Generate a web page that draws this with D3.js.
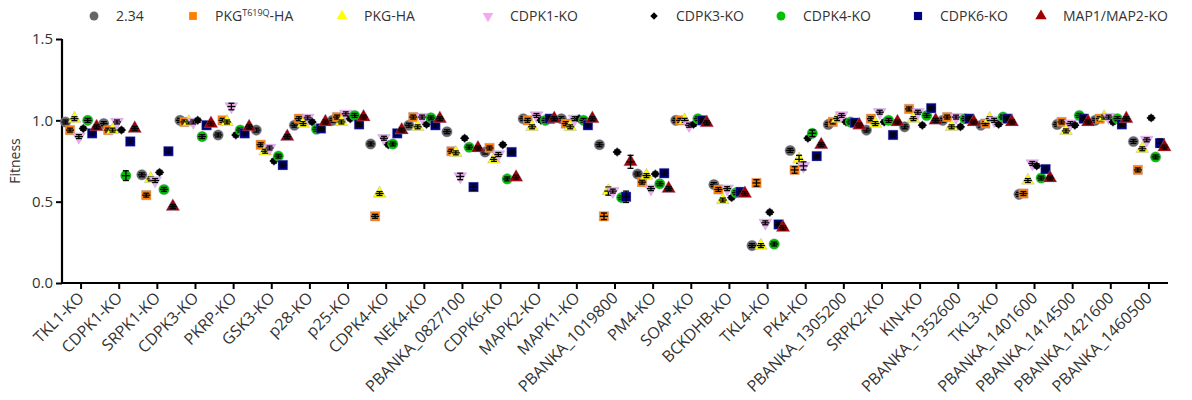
<!DOCTYPE html>
<html>
<head>
<meta charset="utf-8">
<script src="https://cdn.jsdelivr.net/npm/d3@7"></script>
<style>
  body { margin: 0; background: #fff; }
  text { font-family: "Open Sans", "Noto Sans", sans-serif; fill: #333; }
</style>
</head>
<body>
<div id="chart"></div>
<script>
// categories on the x axis
const categories = ["TKL1-KO", "CDPK1-KO", "SRPK1-KO", "CDPK3-KO", "PKRP-KO", "GSK3-KO", "p28-KO", "p25-KO",
  "CDPK4-KO", "NEK4-KO", "PBANKA_0827100", "CDPK6-KO", "MAPK2-KO", "MAPK1-KO", "PBANKA_1019800", "PM4-KO",
  "SOAP-KO", "BCKDHB-KO", "TKL4-KO", "PK4-KO", "PBANKA_1305200", "SRPK2-KO", "KIN-KO", "PBANKA_1352600",
  "TKL3-KO", "PBANKA_1401600", "PBANKA_1414500", "PBANKA_1421600", "PBANKA_1460500"];

// fitness per background line, one value per category
const v234 =    [0.99, 0.98, 0.665, 1.00, 0.91, 0.94, 0.97, 1.00, 0.855, 0.97, 0.93, 0.805, 1.01, 1.01, 0.85, 0.67, 1.00, 0.605, 0.23, 0.815, 0.975, 0.94, 0.96, 1.00, 0.97, 0.545, 0.975, 1.00, 0.87];
const vPkgT =   [0.94, 0.94, 0.54, 0.99, 1.00, 0.85, 1.01, 1.02, 0.41, 1.02, 0.81, 0.83, 1.00, 0.98, 0.41, 0.62, 1.00, 0.575, 0.615, 0.695, 0.99, 1.01, 1.07, 1.02, 0.98, 0.55, 0.99, 1.01, 0.695];
const vPkg =    [1.01, 0.94, 0.64, 0.99, 0.99, 0.81, 0.98, 0.99, 0.55, 0.96, 0.80, 0.76, 0.96, 0.96, 0.565, 0.66, 1.00, 0.51, 0.23, 0.76, 1.01, 0.98, 1.01, 0.96, 1.01, 0.63, 0.935, 1.02, 0.825];
const vCdpk1 =  [0.90, 0.99, 0.63, 0.99, 1.085, 0.83, 1.015, 1.04, 0.89, 1.02, 0.655, 0.79, 1.03, 1.01, 0.565, 0.58, 0.97, 0.58, 0.37, 0.72, 1.03, 1.05, 1.05, 1.02, 1.00, 0.735, 0.98, 1.02, 0.88];
const vCdpk3 =  [0.95, 0.94, 0.68, 1.00, 0.91, 0.75, 0.99, 1.01, 0.85, 0.975, 0.89, 0.85, 1.00, 1.01, 0.805, 0.67, 0.975, 0.525, 0.435, 0.89, 0.99, 0.99, 0.97, 0.96, 0.975, 0.72, 0.97, 0.99, 1.015];
const vCdpk4 =  [1.00, 0.66, 0.575, 0.90, 0.94, 0.78, 0.945, 1.03, 0.855, 1.015, 0.835, 0.64, 1.00, 1.00, 0.525, 0.61, 1.01, 0.555, 0.24, 0.92, 0.99, 1.00, 1.03, 1.01, 1.02, 0.645, 1.03, 1.01, 0.775];
const vCdpk6 =  [0.92, 0.87, 0.81, 0.97, 0.92, 0.725, 0.95, 0.975, 0.92, 0.97, 0.59, 0.805, 1.01, 0.97, 0.53, 0.675, 1.00, 0.56, 0.36, 0.78, 0.985, 0.91, 1.075, 1.01, 1.01, 0.70, 1.01, 0.975, 0.86];
const vMap =    [0.96, 0.95, 0.47, 0.98, 0.96, 0.90, 0.99, 1.02, 0.94, 1.01, 0.83, 0.65, 1.01, 1.01, 0.745, 0.58, 0.985, 0.55, 0.34, 0.85, 0.97, 0.99, 1.00, 0.99, 0.99, 0.645, 0.99, 1.01, 0.835];

// the few error bars that stand out; all others use baseErr
const baseErr = 0.012;
const bigErrs = [
  { series: "CDPK4-KO", cat: "CDPK1-KO", err: 0.03 },
  { series: "CDPK1-KO", cat: "PKRP-KO", err: 0.02 },
  { series: "CDPK1-KO", cat: "PBANKA_0827100", err: 0.02 },
  { series: "CDPK6-KO", cat: "PBANKA_0827100", err: 0.02 },
  { series: "PKG-HA", cat: "PBANKA_1019800", err: 0.025 },
  { series: "CDPK6-KO", cat: "PBANKA_1019800", err: 0.035 },
  { series: "MAP1/MAP2-KO", cat: "PBANKA_1019800", err: 0.04 },
  { series: "PKGT619Q-HA", cat: "PBANKA_1019800", err: 0.02 },
  { series: "PKGT619Q-HA", cat: "TKL4-KO", err: 0.02 },
  { series: "PKG-HA", cat: "PK4-KO", err: 0.025 },
  { series: "CDPK1-KO", cat: "PK4-KO", err: 0.025 },
  { series: "PKGT619Q-HA", cat: "PK4-KO", err: 0.02 },
  { series: "CDPK4-KO", cat: "PK4-KO", err: 0.02 },
  { series: "CDPK6-KO", cat: "PBANKA_1460500", err: 0.025 }
];

const series = [
  { name: "2.34", values: v234, color: "#666666", shape: d3.symbolCircle, size: 88 },
  { name: "PKGT619Q-HA", values: vPkgT, color: "#ff8000", shape: d3.symbolSquare, size: 88 },
  { name: "PKG-HA", values: vPkg, color: "#ffff00", shape: d3.symbolTriangle, size: 70 },
  { name: "CDPK1-KO", values: vCdpk1, color: "#f4a8f0", shape: d3.symbolTriangle, size: 70, rot: 180 },
  { name: "CDPK3-KO", values: vCdpk3, color: "#000000", shape: d3.symbolSquare, size: 40, rot: 45 },
  { name: "CDPK4-KO", values: vCdpk4, color: "#00c000", shape: d3.symbolCircle, size: 88 },
  { name: "CDPK6-KO", values: vCdpk6, color: "#000080", shape: d3.symbolSquare, size: 95 },
  { name: "MAP1/MAP2-KO", values: vMap, color: "#a00000", shape: d3.symbolTriangle, size: 80 }
];

const yTicks = [0, 0.5, 1.0, 1.5];

const margin = { top: 39, right: 24, bottom: 117, left: 62 };
const width = 1192 - margin.left - margin.right;
const height = 400 - margin.top - margin.bottom;

const svg = d3.select("#chart")
  .append("svg")
    .attr("width", 1192)
    .attr("height", 400)
  .append("g")
    .attr("transform", `translate(${margin.left},${margin.top})`);

const x = d3.scaleBand()
  .domain(categories)
  .range([0, width])
  .padding(0);

const inner = d3.scalePoint()
  .domain(series.map(s => s.name))
  .range([-15.5, 15.5]);

const y = d3.scaleLinear()
  .domain([0, 1.5])
  .range([height, 0]);

// y axis
const yAxis = svg.append("g")
  .call(d3.axisLeft(y).tickValues(yTicks).tickFormat(d3.format(".1f")).tickSize(6).tickPadding(3));
yAxis.select(".domain").attr("stroke", "#000").attr("stroke-width", 2.2).attr("d", `M0,${height + 1}V0`);
yAxis.selectAll(".tick line").attr("stroke", "#000").attr("stroke-width", 2);
yAxis.selectAll(".tick text").style("font-size", "15px").style("fill", "#333");

svg.append("text")
  .attr("transform", `translate(-42,${height / 2}) rotate(-90)`)
  .attr("text-anchor", "middle")
  .style("font-size", "14px")
  .text("Fitness");

// x axis
const xAxis = svg.append("g")
  .attr("transform", `translate(0,${height})`)
  .call(d3.axisBottom(x).tickSize(6).tickPadding(4));
xAxis.select(".domain").attr("stroke", "#000").attr("stroke-width", 2.2).attr("d", `M-1,0H${width}`);
xAxis.selectAll(".tick line").attr("stroke", "#000").attr("stroke-width", 2);
xAxis.selectAll(".tick text")
  .style("font-size", "16px")
  .style("fill", "#333")
  .attr("text-anchor", "end")
  .attr("x", 0)
  .attr("y", 0)
  .attr("dx", 0)
  .attr("dy", 0)
  .attr("transform", "translate(4,16) rotate(-45)");

const errFor = (sname, cat) => {
  const b = bigErrs.find(e => e.series === sname && e.cat === cat);
  return b ? b.err : baseErr;
};

// points with mean line and error bars
series.forEach(s => {
  const g = svg.append("g");
  const pts = categories.map((c, i) => ({ cat: c, value: s.values[i], err: errFor(s.name, c) }));
  const px = d => x(d.cat) + x.bandwidth() / 2 + inner(s.name);

  g.selectAll("path.mark")
    .data(pts)
    .join("path")
      .attr("class", "mark")
      .attr("d", d3.symbol().type(s.shape).size(s.size))
      .attr("transform", d => `translate(${px(d)},${y(d.value)})${s.rot ? ` rotate(${s.rot})` : ""}`)
      .attr("fill", s.color)
      .attr("stroke", "rgba(150,150,200,0.35)")
      .attr("stroke-width", 1);

  const bars = g.selectAll("g.bar")
    .data(pts)
    .join("g")
      .attr("class", "bar")
      .attr("stroke", "#000")
      .attr("stroke-width", 1.3);
  bars.append("line")
    .attr("x1", d => px(d) - 4).attr("x2", d => px(d) + 4)
    .attr("y1", d => y(d.value)).attr("y2", d => y(d.value));
  bars.append("line")
    .attr("x1", d => px(d)).attr("x2", d => px(d))
    .attr("y1", d => y(d.value - d.err)).attr("y2", d => y(d.value + d.err));
  bars.append("line")
    .attr("x1", d => px(d) - 3).attr("x2", d => px(d) + 3)
    .attr("y1", d => y(d.value + d.err)).attr("y2", d => y(d.value + d.err));
  bars.append("line")
    .attr("x1", d => px(d) - 3).attr("x2", d => px(d) + 3)
    .attr("y1", d => y(d.value - d.err)).attr("y2", d => y(d.value - d.err));
});

// legend along the top
const legendX = [94, 193, 342, 488, 654, 781, 918, 1041];
const legend = d3.select("svg").append("g");
series.forEach((s, i) => {
  const item = legend.append("g").attr("transform", `translate(${legendX[i]},16)`);
  item.append("path")
    .attr("d", d3.symbol().type(s.shape).size(s.size * 0.7))
    .attr("transform", s.rot ? `rotate(${s.rot})` : null)
    .attr("fill", s.color);
  const t = item.append("text")
    .attr("x", 22)
    .attr("y", 5)
    .style("font-size", "14px");
  if (s.name === "PKGT619Q-HA") {
    t.append("tspan").text("PKG");
    t.append("tspan").attr("dy", -5).style("font-size", "9px").text("T619Q");
    t.append("tspan").attr("dy", 5).text("-HA");
  } else {
    t.text(s.name);
  }
});
</script>
</body>
</html>
